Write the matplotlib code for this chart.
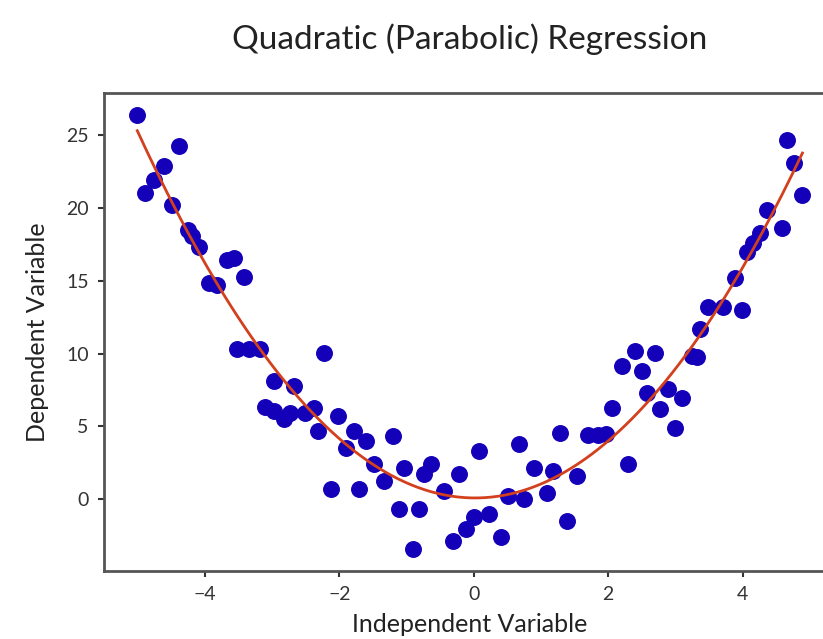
import numpy as np
import matplotlib
matplotlib.use("Agg")
import matplotlib.pyplot as plt

plt.rcParams['font.family'] = ['Lato', 'DejaVu Sans']

# observed samples
x_vals = [-5.007, -4.385, -4.607, -4.756, -4.889, -4.489, -4.252, -4.193, -4.089,
          -3.941, -3.822, -3.674, -3.570, -3.422, -3.526, -3.348, -3.185, -2.978,
          -2.681, -2.222, -3.111, -2.978, -2.830, -2.741, -2.519, -2.385, -2.311,
          -2.015, -1.778, -1.600, -1.200, -1.896, -1.481, -1.333, -2.119, -1.704,
          -1.037, -0.637, -0.741, -0.222, 0.074, -0.444, -1.111, -0.815, -0.904,
          -0.311, -0.119, 0.000, 0.222, 0.400, 0.504, 0.741, 0.889, 1.096, 1.185,
          0.667, 1.289, 1.393, 1.541, 1.704, 1.852, 1.970, 2.059, 2.296, 2.207,
          2.400, 2.696, 2.504, 2.578, 2.889, 3.096, 2.770, 2.993, 3.244, 3.319,
          3.363, 3.481, 3.704, 3.985, 3.881, 4.059, 4.148, 4.252, 4.356, 4.578,
          4.667, 4.770, 4.889]
y_vals = [26.41, 24.28, 22.90, 21.93, 21.03, 20.21, 18.48, 18.07, 17.31,
          14.83, 14.69, 16.41, 16.55, 15.24, 10.28, 10.28, 10.28, 8.14,
          7.79, 10.07, 6.34, 6.07, 5.52, 5.93, 5.93, 6.28, 4.69,
          5.72, 4.69, 4.00, 4.34, 3.52, 2.41, 1.24, 0.69, 0.69,
          2.14, 2.41, 1.72, 1.72, 3.31, 0.55, -0.69, -0.69, -3.45,
          -2.90, -2.07, -1.24, -1.03, -2.62, 0.21, 0.00, 2.14, 0.41, 1.93,
          3.79, 4.55, -1.52, 1.59, 4.41, 4.41, 4.48, 6.28, 2.41, 9.17,
          10.21, 10.07, 8.83, 7.31, 7.59, 6.97, 6.21, 4.90, 9.86, 9.79,
          11.72, 13.17, 13.17, 12.97, 15.17, 16.97, 17.59, 18.28, 19.86, 18.62,
          24.69, 23.10, 20.90]

x = np.array(x_vals)
y = np.array(y_vals)

# second order least squares fit
coeffs = np.polyfit(x, y, 2)
model = np.poly1d(coeffs)
x_line = np.linspace(x.min(), x.max(), 200)

fig = plt.figure(figsize=(8.23, 6.39), dpi=100)
ax = fig.add_axes([0.1264, 0.1064, 0.889, 0.748])

ax.scatter(x, y, s=125, color='#1400b8', zorder=2)
ax.plot(x_line, model(x_line), color='#d2401e', linewidth=2, zorder=3)

ax.set_title('Quadratic (Parabolic) Regression', fontsize=24, pad=32, color='#222222')
ax.set_xlabel('Independent Variable', fontsize=18, labelpad=7, color='#222222')
ax.set_ylabel('Dependent Variable', fontsize=18, labelpad=12, color='#222222')

for side in ax.spines.values():
    side.set_color('#555555')
    side.set_linewidth(2)
ax.tick_params(labelsize=14, length=4, width=1.5, pad=7, colors='#333333')

fig.savefig('out.png', dpi=100)
